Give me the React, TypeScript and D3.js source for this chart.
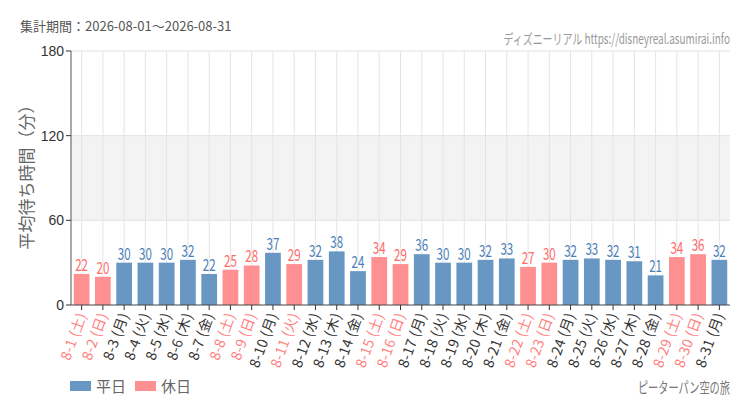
import React from 'react';
import * as d3 from 'd3';

const days = [
  '8-1', '8-2', '8-3', '8-4', '8-5', '8-6', '8-7', '8-8', '8-9', '8-10',
  '8-11', '8-12', '8-13', '8-14', '8-15', '8-16', '8-17', '8-18', '8-19', '8-20',
  '8-21', '8-22', '8-23', '8-24', '8-25', '8-26', '8-27', '8-28', '8-29', '8-30', '8-31',
];
const weekdays = [
  '土', '日', '月', '火', '水', '木', '金', '土', '日', '月',
  '火', '水', '木', '金', '土', '日', '月', '火', '水', '木',
  '金', '土', '日', '月', '火', '水', '木', '金', '土', '日', '月',
];
const waitTimes = [
  22, 20, 30, 30, 30, 32, 22, 25, 28, 37,
  29, 32, 38, 24, 34, 29, 36, 30, 30, 32,
  33, 27, 30, 32, 33, 32, 31, 21, 34, 36, 32,
];
// 1 = 休日 (weekend / holiday)
const holidays = [
  1, 1, 0, 0, 0, 0, 0, 1, 1, 0,
  1, 0, 0, 0, 1, 1, 0, 0, 0, 0,
  0, 1, 1, 0, 0, 0, 0, 0, 1, 1, 0,
];
const yTicks = [0, 60, 120, 180];
const legendItems = ['平日', '休日'];

const W = 750;
const H = 410;
const margin = { top: 51, right: 20, bottom: 105, left: 71 };

const BAR = ['#6897c3', '#ff9092'];
const LABEL = ['#4a80b8', '#ff6b6b'];
const TICK_TEXT = ['#333', '#ff7f7f'];

const JP = '"Noto Sans CJK JP", "Noto Sans", sans-serif';

// no condensed face installed, so squeeze the text horizontally
const Narrow: React.FC<{
  x: number;
  y: number;
  sx?: number;
  anchor?: string;
  size: number;
  fill: string;
  children: React.ReactNode;
}> = ({ x, y, sx = 0.7, anchor = 'start', size, fill, children }) => (
  <g transform={`translate(${x},${y}) scale(${sx},1)`}>
    <text textAnchor={anchor} fontFamily={JP} fontSize={size} fill={fill}>
      {children}
    </text>
  </g>
);

const App: React.FC = () => {
  const x = d3
    .scaleBand<string>()
    .domain(days)
    .range([margin.left, W - margin.right])
    .paddingInner(0.26)
    .paddingOuter(0.13);
  const y = d3
    .scaleLinear()
    .domain([0, 180])
    .range([H - margin.bottom, margin.top]);

  const x0 = margin.left;
  const x1 = W - margin.right;
  const yBase = y(0);

  return (
    <svg
      width={W}
      height={H}
      style={{ position: 'absolute', left: 0, top: 0, background: '#fff' }}
    >
      <text x={20} y={31} fontFamily={JP} fontSize={13} fill="#555">
        集計期間：2026-08-01～2026-08-31
      </text>
      <Narrow x={730} y={44} sx={0.71} anchor="end" size={14} fill="#999">
        ディズニーリアル https://disneyreal.asumirai.info
      </Narrow>

      {/* 60-120 band */}
      <rect x={x0} y={y(120)} width={x1 - x0} height={y(60) - y(120)} fill="#f3f3f3" />

      {/* grid */}
      {yTicks.slice(1).map((t) => (
        <line key={'h' + t} x1={x0} x2={x1} y1={y(t)} y2={y(t)} stroke="#e2e2e2" />
      ))}
      {days.map((d) => {
        const cx = (x(d) ?? 0) + x.bandwidth() / 2;
        return (
          <line key={'v' + d} x1={cx} x2={cx} y1={y(180)} y2={yBase} stroke="#e4e4e4" />
        );
      })}

      {/* bars */}
      {days.map((d, i) => (
        <rect
          key={'b' + d}
          x={x(d)}
          y={y(waitTimes[i])}
          width={x.bandwidth()}
          height={yBase - y(waitTimes[i])}
          fill={BAR[holidays[i]]}
        />
      ))}
      {days.map((d, i) => (
        <Narrow
          key={'l' + d}
          x={(x(d) ?? 0) + x.bandwidth() / 2}
          y={y(waitTimes[i]) - 3}
          sx={0.68}
          anchor="middle"
          size={17}
          fill={LABEL[holidays[i]]}
        >
          {waitTimes[i]}
        </Narrow>
      ))}

      {/* y axis */}
      <line x1={x0} x2={x0} y1={y(180)} y2={yBase} stroke="#555" />
      {yTicks.map((t) => (
        <g key={'yt' + t}>
          <line x1={x0 - 5} x2={x0} y1={y(t)} y2={y(t)} stroke="#333" />
          <text
            x={x0 - 7}
            y={y(t)}
            dy="0.35em"
            textAnchor="end"
            fontFamily='"Liberation Sans", Arial, sans-serif'
            fontSize={14}
            fill="#333"
          >
            {t}
          </text>
        </g>
      ))}
      <text
        transform={`translate(33,${(y(180) + yBase) / 2 - 5}) rotate(-90)`}
        textAnchor="middle"
        fontFamily={JP}
        fontSize={17}
        fill="#666"
      >
        平均待ち時間（分）
      </text>

      {/* x axis */}
      <line x1={x0} x2={x1} y1={yBase} y2={yBase} stroke="#444" />
      {days.map((d, i) => {
        const cx = (x(d) ?? 0) + x.bandwidth() / 2;
        return (
          <g key={'xt' + d}>
            <line x1={cx} x2={cx} y1={yBase} y2={yBase + 5} stroke="#333" />
            <text
              transform={`translate(${cx + 5},${yBase + 10}) rotate(-70)`}
              textAnchor="end"
              fontFamily={JP}
              fontSize={14}
              letterSpacing={0.3}
              fill={TICK_TEXT[holidays[i]]}
            >
              {`${d} (${weekdays[i]})`}
            </text>
          </g>
        );
      })}

      {/* legend */}
      {legendItems.map((name, i) => (
        <g key={name} transform={`translate(${70 + i * 65},381)`}>
          <rect width={21} height={10} fill={BAR[i]} />
          <text x={26} y={11} fontFamily={JP} fontSize={15} fill="#666">
            {name}
          </text>
        </g>
      ))}
      <Narrow x={730} y={393} sx={0.68} anchor="end" size={15} fill="#777">
        ピーターパン空の旅
      </Narrow>
    </svg>
  );
};

export default App;
